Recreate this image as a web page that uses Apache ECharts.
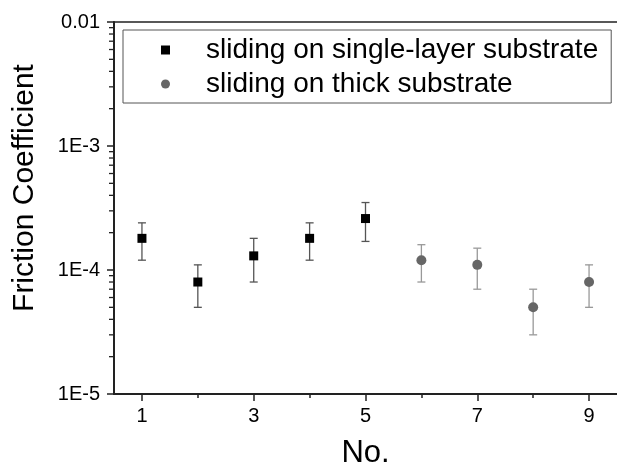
<!DOCTYPE html>
<html><head><meta charset="utf-8">
<script src="https://cdn.jsdelivr.net/npm/echarts@6/dist/echarts.min.js"></script>
<style>html,body{margin:0;padding:0;background:#fff}#c{width:617px;height:464px}</style>
</head><body><div id="c"></div>
<script>
const seriesNames = ['sliding on single-layer substrate', 'sliding on thick substrate'];
const xSingle = [1, 2, 3, 4, 5];
const ySingle = [1.8e-4, 8e-5, 1.3e-4, 1.8e-4, 2.6e-4];
const errSingle = [6e-5, 3e-5, 5e-5, 6e-5, 9e-5];
const xThick = [6, 7, 8, 9];
const yThick = [1.2e-4, 1.1e-4, 5e-5, 8e-5];
const errThick = [4e-5, 4e-5, 2e-5, 3e-5];
const yLabels = {'-5': '1E-5', '-4': '1E-4', '-3': '1E-3', '-2': '0.01'};
const yMinorTicks = [];
[1e-5, 1e-4, 1e-3].forEach(d => { for (let k = 2; k <= 9; k++) yMinorTicks.push(d * k); });
const xMajorTicks = [1, 3, 5, 7, 9];
const xMinorTicks = [2, 4, 6, 8];

const FONT = 'Liberation Sans';
const chart = echarts.init(document.getElementById('c'), null, {renderer: 'canvas'});

function errRender(color) {
  return function (params, api) {
    const x = api.value(0), lo = api.value(1), hi = api.value(2);
    const t = api.coord([x, hi]), b = api.coord([x, lo]);
    const hw = 4;
    const st = {stroke: color, lineWidth: 1.3};
    return {type: 'group', children: [
      {type: 'line', shape: {x1: t[0], y1: t[1], x2: b[0], y2: b[1]}, style: st},
      {type: 'line', shape: {x1: t[0] - hw, y1: t[1], x2: t[0] + hw, y2: t[1]}, style: st},
      {type: 'line', shape: {x1: b[0] - hw, y1: b[1], x2: b[0] + hw, y2: b[1]}, style: st}
    ]};
  };
}

const option = {
  animation: false,
  backgroundColor: '#fff',
  grid: {left: 114, right: 0, top: 22, bottom: 70, containLabel: false, outerBoundsMode: 'none'},
  legend: {
    orient: 'vertical', left: 123, top: 30,
    data: [{name: seriesNames[0], icon: 'rect'}, {name: seriesNames[1], icon: 'circle'}],
    itemWidth: 9, itemHeight: 9, itemGap: 6,
    padding: [6, 13, 5, 38],
    borderColor: '#555', borderWidth: 1,
    textStyle: {fontFamily: FONT, fontSize: 28, color: '#000', lineHeight: 28, padding: [0, 0, 0, 31]}
  },
  xAxis: [{
    type: 'value', min: 0.5, max: 9.5, position: 'bottom',
    name: 'No.', nameLocation: 'middle', nameGap: 44,
    nameTextStyle: {fontFamily: FONT, fontSize: 31, color: '#000'},
    axisLine: {lineStyle: {color: '#222', width: 2}},
    axisTick: {customValues: xMajorTicks, length: 7, lineStyle: {color: '#222', width: 1.5}},
    axisLabel: {customValues: xMajorTicks, margin: 12, fontFamily: FONT, fontSize: 20, color: '#000'},
    splitLine: {show: false}
  }, {
    type: 'value', min: 0.5, max: 9.5, position: 'bottom',
    axisLine: {show: false},
    axisTick: {customValues: xMinorTicks, length: 4, lineStyle: {color: '#222', width: 1.5}},
    axisLabel: {show: false},
    splitLine: {show: false}
  }, {
    type: 'value', min: 0.5, max: 9.5, position: 'top',
    axisLine: {lineStyle: {color: '#222', width: 1.5}},
    axisTick: {show: false}, axisLabel: {show: false}, splitLine: {show: false}
  }],
  yAxis: {
    type: 'log', logBase: 10, min: 1e-5, max: 1e-2,
    name: 'Friction Coefficient', nameLocation: 'middle', nameGap: 74,
    nameTextStyle: {fontFamily: FONT, fontSize: 30, color: '#000', padding: [0, 0, 0, 40]},
    axisLine: {lineStyle: {color: '#222', width: 2}},
    axisTick: {length: 7, lineStyle: {color: '#222', width: 1.5}},
    axisLabel: {
      margin: 14, fontFamily: FONT, fontSize: 20, color: '#000',
      formatter: v => yLabels[String(Math.round(Math.log10(v)))] || ''
    },
    splitLine: {show: false}
  },
  series: [
    {
      type: 'custom', name: 'minorY', silent: true, clip: false, xAxisIndex: 0,
      data: yMinorTicks.map(v => [0.5, v]),
      renderItem: (params, api) => {
        const p = api.coord([api.value(0), api.value(1)]);
        return {type: 'line', shape: {x1: p[0] - 5, y1: p[1], x2: p[0], y2: p[1]}, style: {stroke: '#222', lineWidth: 1.3}};
      }
    },
    {
      type: 'custom', name: 'errSingle', silent: true, z: 2,
      data: xSingle.map((x, i) => [x, ySingle[i] - errSingle[i], ySingle[i] + errSingle[i]]),
      encode: {x: 0, y: [1, 2]},
      renderItem: errRender('#555')
    },
    {
      type: 'custom', name: 'errThick', silent: true, z: 2,
      data: xThick.map((x, i) => [x, yThick[i] - errThick[i], yThick[i] + errThick[i]]),
      encode: {x: 0, y: [1, 2]},
      renderItem: errRender('#999')
    },
    {
      type: 'scatter', name: seriesNames[0], symbol: 'rect', symbolSize: 9, z: 3,
      itemStyle: {color: '#000', opacity: 1},
      data: xSingle.map((x, i) => [x, ySingle[i]])
    },
    {
      type: 'scatter', name: seriesNames[1], symbol: 'circle', symbolSize: 10, z: 3,
      itemStyle: {color: '#666', opacity: 1},
      data: xThick.map((x, i) => [x, yThick[i]])
    }
  ]
};
chart.setOption(option);
</script></body></html>
